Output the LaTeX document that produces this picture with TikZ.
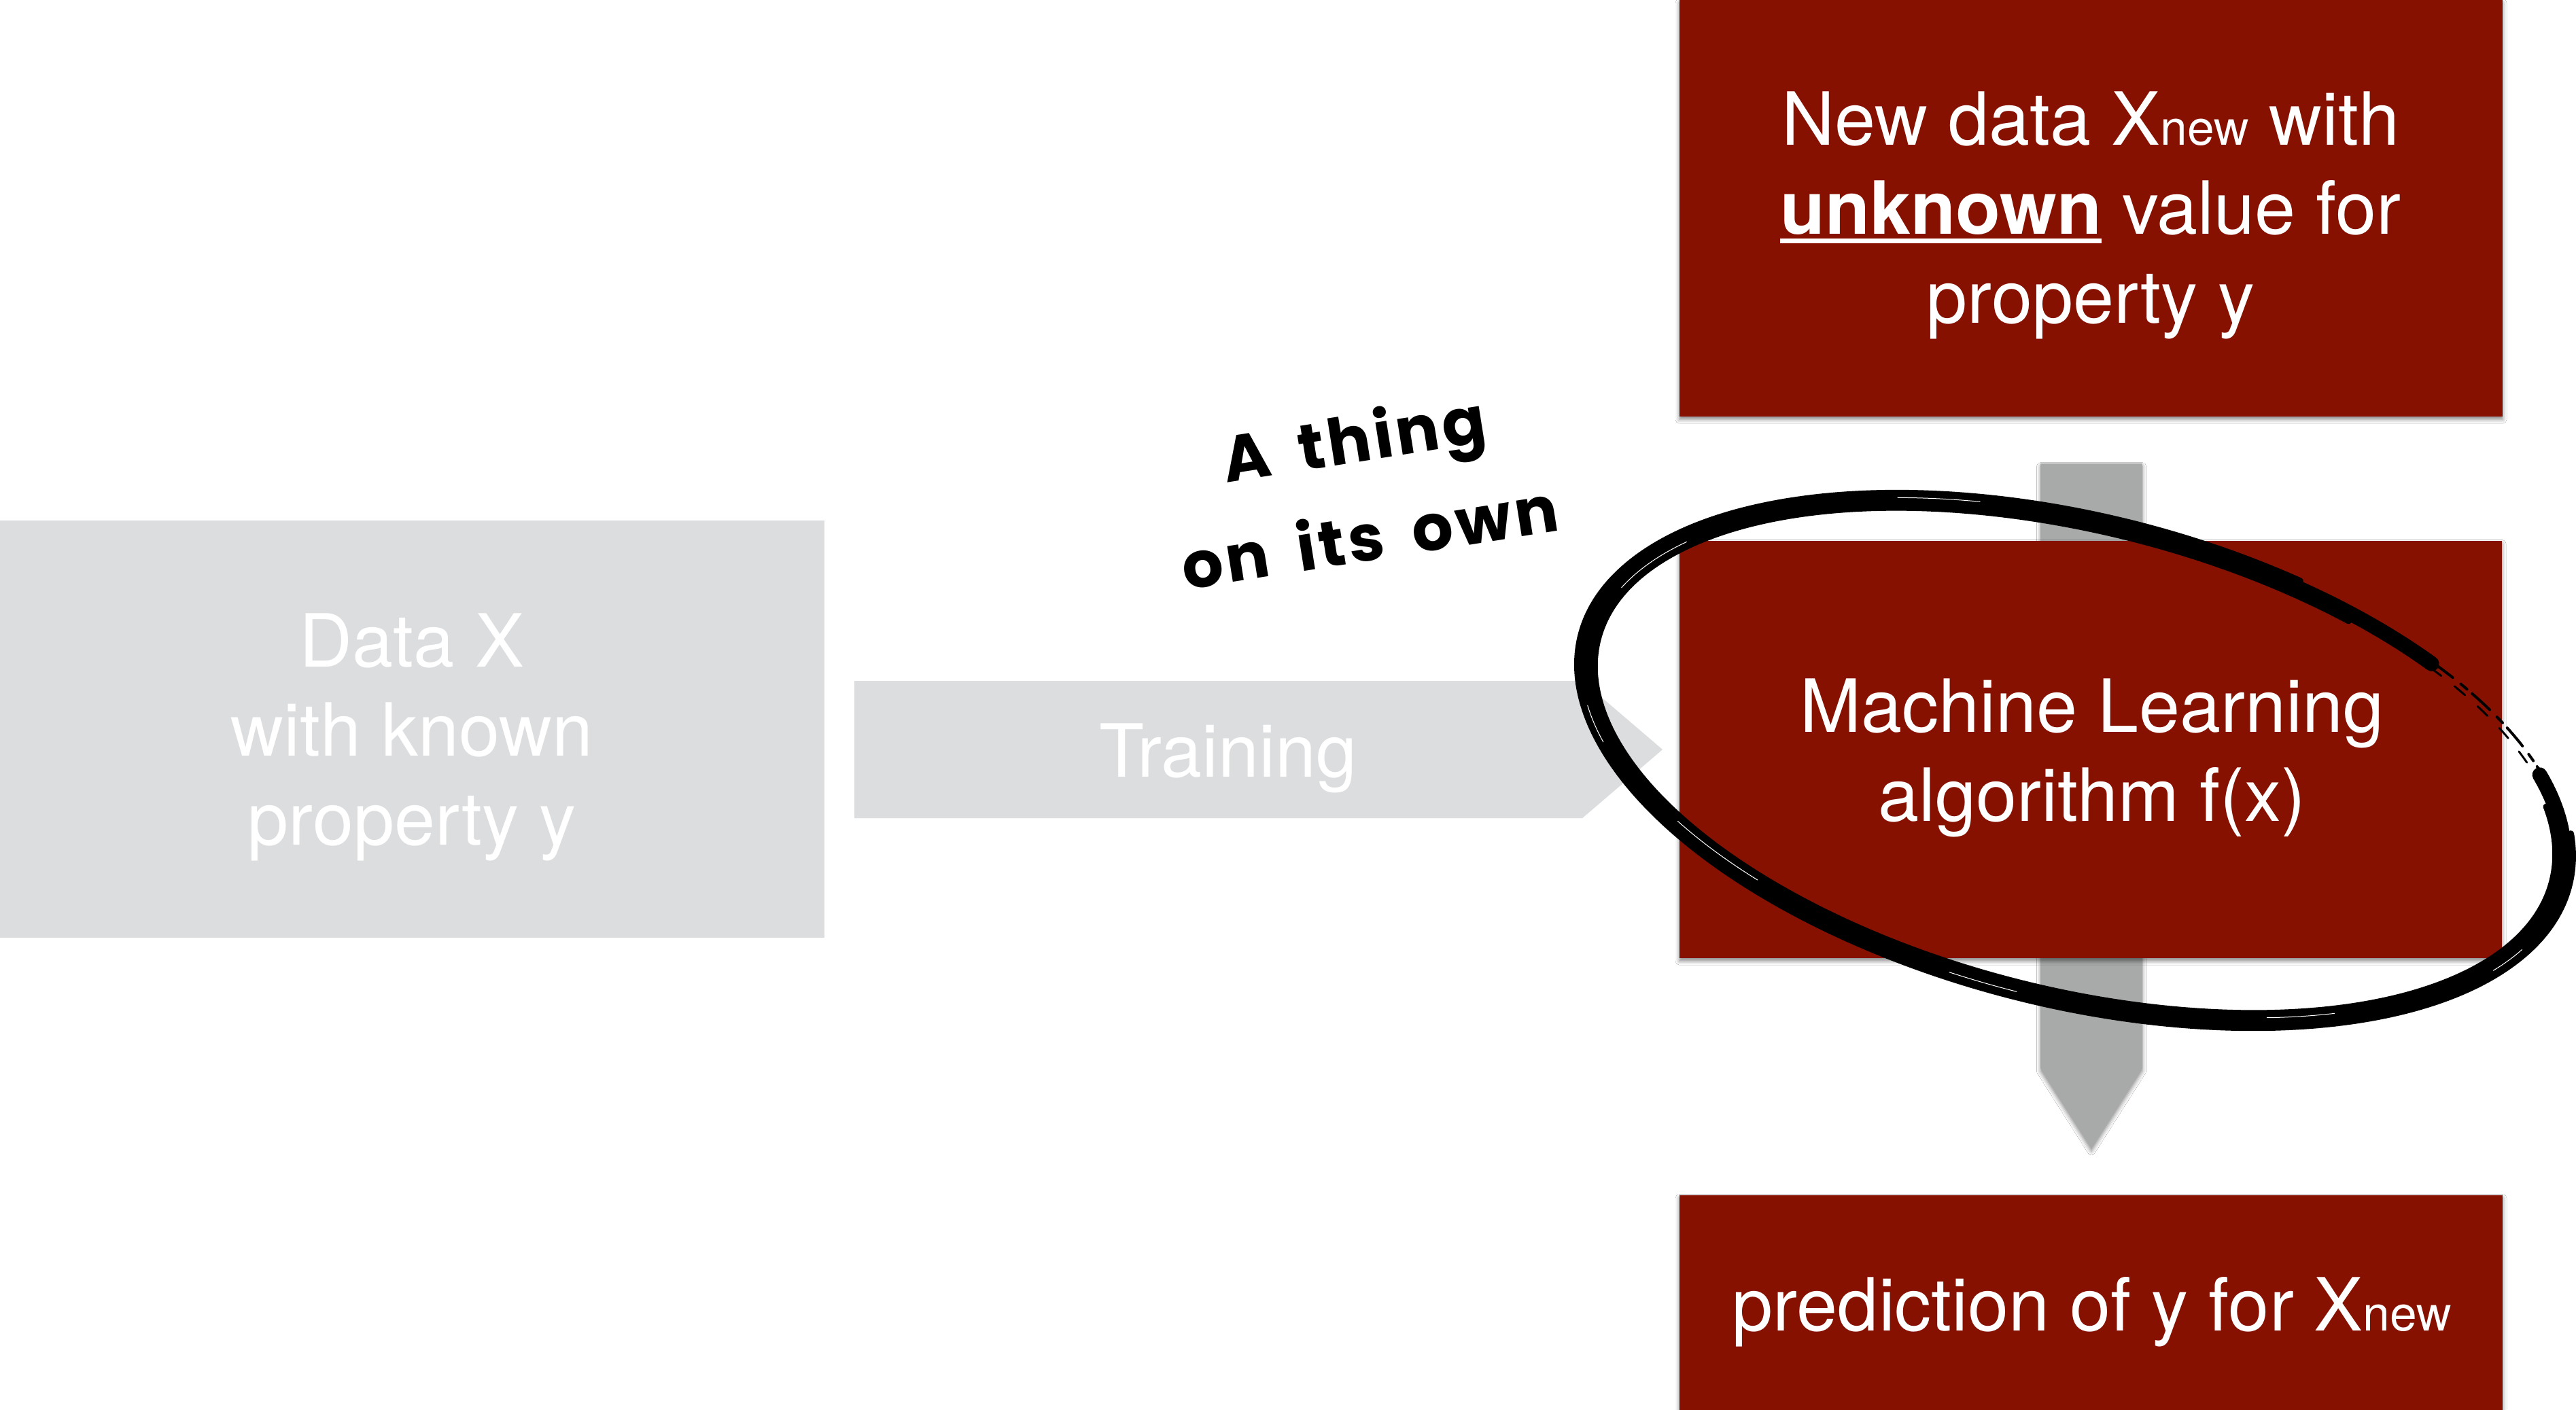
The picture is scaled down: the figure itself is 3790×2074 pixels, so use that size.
\documentclass[tikz,border=0pt]{standalone}
\usepackage{fontspec}
\setmainfont{TeX Gyre Heros}
\newfontfamily\handfont{Poppins}[LetterSpace=5, WordSpace=1.7]
\usetikzlibrary{shadows.blur}

\definecolor{mlred}{RGB}{134,17,0}
\definecolor{panelgray}{RGB}{220,221,223}
\definecolor{flowgray}{RGB}{167,170,169}

% underlined word with a rule placed like a slide underline
\newlength\ulwd
\newcommand\ulword[1]{\settowidth\ulwd{#1}\rlap{\rule[-3.8pt]{\ulwd}{2.1pt}}{#1}}
% small "new" index sitting on the baseline
\newcommand\subnew{{\fontsize{20.3pt}{37.2pt}\selectfont new}}

\begin{document}
\begin{tikzpicture}[x=0.01cm, y=-0.01cm,
  softshadow/.style={blur shadow={shadow xshift=0pt, shadow yshift=-1.2pt,
      shadow blur radius=1.6pt, shadow opacity=45}},
  redbox/.style={fill=mlred, draw=none, inner sep=0pt, softshadow},
  graybox/.style={fill=panelgray, draw=none, inner sep=0pt},
  boxtext/.style={text=white, align=center, inner sep=0pt,
      font=\fontsize{30.7pt}{37.2pt}\selectfont},
  handtext/.style={text=black, align=center, inner sep=0pt,
      font=\handfont\bfseries\fontsize{27pt}{41.5pt}\selectfont}
]
\useasboundingbox (0,0) rectangle (3790,2074);
\fill[white] (0,0) rectangle (3790,2074);

% training data panel
\node[graybox, minimum width=12.13cm, minimum height=6.14cm] (data) at (606.5,1073) {};
\node[boxtext] (datatext) at (606,1085) {Data X\\with known\\property y};

% training chevron
\coordinate (trainA) at (1257,1002);
\coordinate (trainB) at (2328,1002);
\coordinate (trainTip) at (2446,1103);
\coordinate (trainC) at (2328,1204);
\coordinate (trainD) at (1257,1204);
\fill[panelgray] (trainA) -- (trainB) -- (trainTip) -- (trainC) -- (trainD) -- cycle;
\node[boxtext, anchor=base] (traintext) at (1807,1143) {Training};

% downward flow arrow behind the algorithm box
\coordinate (flowA) at (3002,682);
\coordinate (flowB) at (3152,682);
\coordinate (flowC) at (3152,1572);
\coordinate (flowTip) at (3077,1690);
\coordinate (flowD) at (3002,1572);
\fill[flowgray, softshadow] (flowA) -- (flowB) -- (flowC) -- (flowTip) -- (flowD) -- cycle;

% red boxes
\node[redbox, minimum width=12.11cm, minimum height=6.13cm] (newdata) at (3076.5,306.5) {};
\node[redbox, minimum width=12.10cm, minimum height=6.14cm] (mlalgo) at (3076,1103) {};
\node[redbox, minimum width=12.11cm, minimum height=3.25cm] (predict) at (3076.5,1921.5) {};

\node[boxtext] (newtext) at (3076,317)
  {New data X\subnew{} with\\\ulword{\bfseries unknown} value for\\property y};
\node[boxtext] (mltext) at (3078,1115) {Machine Learning\\algorithm f(x)};
\node[boxtext, anchor=base] (predtext) at (3078,1958) {prediction of y for X\subnew};

% handwritten remark
\node[handtext, rotate=9] (aside) at (2003,715) {A thing\\on its own};

% brush-stroke loop around the algorithm box
\begin{scope}[shift={(3053,1119)}, rotate=-14.2, x=0.01cm, y=0.01cm,
    brush/.style={draw=black, line cap=round, line join=round},
    streak/.style={draw=white, line width=0.01cm, line cap=round}]
  % solid body of the stroke
  \draw[brush, line width=0.22cm] (50:737 and 348)
    arc[start angle=50, end angle=385, x radius=737, y radius=348];
  \draw[brush, line width=0.09cm] (70:750 and 359)
    arc[start angle=70, end angle=372, x radius=750, y radius=359];
  \draw[brush, line width=0.09cm] (62:724 and 337)
    arc[start angle=62, end angle=378, x radius=724, y radius=337];
  % a few dry-brush streaks inside the stroke
  \draw[streak] (108:741 and 352) arc[start angle=108, end angle=118, x radius=741, y radius=352];
  \draw[streak] (150:731 and 343) arc[start angle=150, end angle=166, x radius=731, y radius=343];
  \draw[streak] (196:744 and 354) arc[start angle=196, end angle=204, x radius=744, y radius=354];
  \draw[streak] (222:733 and 344) arc[start angle=222, end angle=236, x radius=733, y radius=344];
  \draw[streak] (262:740 and 351) arc[start angle=262, end angle=270, x radius=740, y radius=351];
  \draw[streak] (300:733 and 344) arc[start angle=300, end angle=309, x radius=733, y radius=344];
  \draw[streak] (335:742 and 352) arc[start angle=335, end angle=342, x radius=742, y radius=352];
  % thin ragged tail where the loop closes
  \draw[brush, line width=0.04cm, dash pattern=on 0.35cm off 0.1cm on 0.12cm off 0.15cm] (12:741 and 350)
    arc[start angle=12, end angle=72, x radius=741, y radius=350];
  \draw[brush, line width=0.03cm, dash pattern=on 0.2cm off 0.25cm] (22:730 and 342)
    arc[start angle=22, end angle=64, x radius=730, y radius=342];
\end{scope}
\end{tikzpicture}
\end{document}
